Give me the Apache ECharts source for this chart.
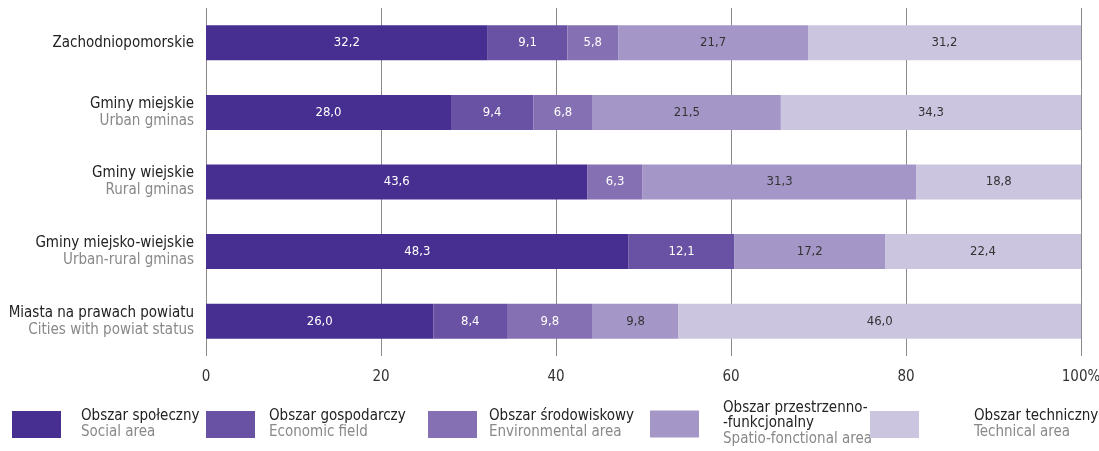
<!DOCTYPE html>
<html><head><meta charset="utf-8">
<script src="https://cdn.jsdelivr.net/npm/echarts@6/dist/echarts.min.js"></script>
<style>html,body{margin:0;padding:0;background:#fff}#c{width:1099px;height:451px}</style>
</head><body><div id="c"></div>
<script>
const categoriesPL = ["Zachodniopomorskie","Gminy miejskie","Gminy wiejskie","Gminy miejsko-wiejskie","Miasta na prawach powiatu"];
const categoriesEN = ["","Urban gminas","Rural gminas","Urban-rural gminas","Cities with powiat status"];
const seriesNamesPL = ["Obszar społeczny","Obszar gospodarczy","Obszar środowiskowy","Obszar przestrzenno-\n-funkcjonalny","Obszar techniczny"];
const seriesNamesEN = ["Social area","Economic field","Environmental area","Spatio-fonctional area","Technical area"];
const social = [32.2, 28.0, 43.6, 48.3, 26.0];
const economic = [9.1, 9.4, null, 12.1, 8.4];
const environmental = [5.8, 6.8, 6.3, null, 9.8];
const spatial = [21.7, 21.5, 31.3, 17.2, 9.8];
const technical = [31.2, 34.3, 18.8, 22.4, 46.0];
const xTicks = ["0","20","40","60","80","100%"];

const FONT = '"Liberation Sans Narrow","DejaVu Sans Condensed","Roboto",sans-serif';
const colors = ["#472f92","#6951a3","#8670b4","#a497c8","#cbc5e0"];
const labelColors = ["#fff","#fff","#fff","#333","#333"];
const values = [social, economic, environmental, spatial, technical];

const series = values.map((v, i) => ({
  name: seriesNamesPL[i],
  type: 'bar',
  stack: 'all',
  barWidth: 35,
  data: v,
  itemStyle: {color: colors[i]},
  label: {
    show: true, position: 'inside', color: labelColors[i],
    fontFamily: FONT, fontSize: 13,
    formatter: p => p.value == null ? '' : p.value.toFixed(1).replace('.', ',')
  }
}));

const legendLefts = [12, 206, 428, 650, 870];
const legendGaps = [15, 9, 7, 19, 50];
const legends = seriesNamesPL.map((n, i) => ({
  data: [n],
  left: legendLefts[i],
  top: i === 3 ? 401 : 409,
  padding: 0,
  orient: 'horizontal',
  itemWidth: 49, itemHeight: 27,
  itemGap: 0,
  itemStyle: {borderWidth: 0},
  icon: 'rect',
  selectedMode: false,
  textStyle: {
    padding: [0, 0, 0, legendGaps[i]],
    rich: {
      a: {fontFamily: FONT, fontSize: 15, color: '#222', lineHeight: 15},
      b: {fontFamily: FONT, fontSize: 15, color: '#888', lineHeight: 16}
    }
  },
  formatter: name => {
    const k = seriesNamesPL.indexOf(name);
    return name.split('\n').map(s => '{a|' + s + '}').join('\n') + '\n{b|' + seriesNamesEN[k] + '}';
  }
}));

const chart = echarts.init(document.getElementById('c'), null, {renderer: 'canvas'});
chart.setOption({
  animation: false,
  grid: {left: 206, right: 18, top: 8, bottom: 95, containLabel: false, outerBoundsMode: 'none'},
  xAxis: {
    type: 'value', min: 0, max: 100, interval: 20,
    axisLine: {show: false}, axisTick: {show: false},
    splitLine: {show: true, lineStyle: {color: '#8a8a8a', width: 1}},
    axisLabel: {
      margin: 14, fontFamily: FONT, fontSize: 15, color: '#333',
      formatter: v => xTicks[Math.round(v / 20)]
    }
  },
  yAxis: {
    type: 'category', inverse: true, data: categoriesPL,
    axisLine: {show: false}, axisTick: {show: false},
    axisLabel: {
      margin: 12,
      formatter: (v, idx) => categoriesEN[idx] ? '{a|' + v + '}\n{b|' + categoriesEN[idx] + '}' : '{a|' + v + '}',
      rich: {
        a: {fontFamily: FONT, fontSize: 15, color: '#222', lineHeight: 17, align: 'right'},
        b: {fontFamily: FONT, fontSize: 15, color: '#888', lineHeight: 17, align: 'right'}
      }
    }
  },
  legend: legends,
  series: series
});
</script>
</body></html>
